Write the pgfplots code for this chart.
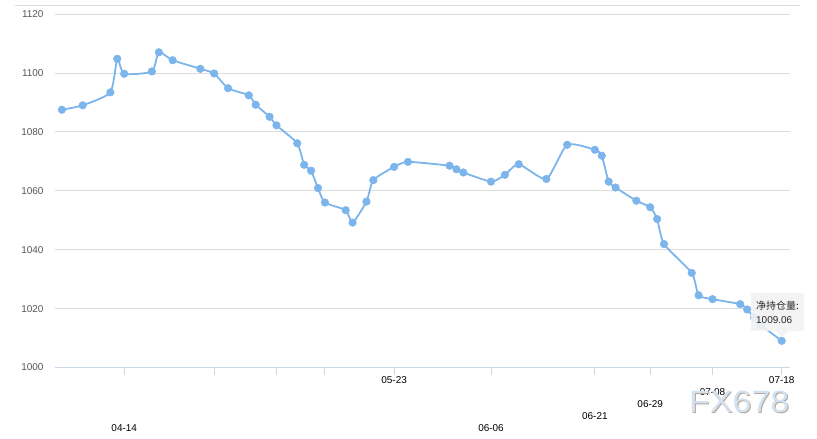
\documentclass[border=0pt]{standalone}
\usepackage{fontspec}
\setmainfont{Liberation Sans}
\newfontfamily\cjk{Noto Sans CJK SC}
\usepackage{pgfplots}
\pgfplotsset{compat=1.18}
\definecolor{serc}{HTML}{7CB5EC}
\definecolor{gridc}{HTML}{DCDCDC}
\definecolor{axc}{HTML}{CCD6EB}
\definecolor{labc}{HTML}{555555}
\definecolor{wmc}{HTML}{D2E2F3}
\definecolor{wmd}{HTML}{B8A89A}
\begin{document}
\begin{tikzpicture}[x=1bp,y=1bp]
\path[use as bounding box] (0,0) rectangle (817,439);
\draw[color=gridc, line width=0.8bp] (15,433.3) -- (800,433.3);
\begin{axis}[
  at={(55bp,71.5bp)}, anchor=south west,
  scale only axis, width=735bp, height=353.5bp,
  xmin=-10, xmax=96.2, ymin=1000, ymax=1120,
  ytick={1000,1020,...,1120},
  xtick={0,13,22,29,39,53,68,76,85,95},
  xticklabels={},
  ymajorgrids, grid style={draw=gridc, line width=0.8bp},
  axis x line*=bottom, axis y line*=left,
  x axis line style={draw=axc, line width=1bp, -},
  y axis line style={draw=none},
  ytick style={draw=none},
  xtick style={draw=axc, line width=1bp},
  tick align=outside, major tick length=8bp,
  yticklabel style={font=\fontsize{10}{12}\selectfont, color=labc, xshift=0bp},
  /pgf/number format/assume math mode=true,
  /pgf/number format/set thousands separator={},
  clip=false,
]
\addplot[color=serc, line width=1.8bp, smooth, tension=0.35,
  mark=*, mark size=3.8bp, mark options={fill=serc, draw=serc, line width=0.5bp}] coordinates {
(-9,1087.5) (-6,1089.0) (-2,1093.4) (-1,1104.8) (0,1099.7) (4,1100.5)
(5,1107.0) (7,1104.3) (11,1101.4) (13,1099.8) (15,1094.8) (18,1092.4)
(19,1089.2) (21,1085.1) (22,1082.2) (25,1076.1) (26,1068.8) (27,1066.8)
(28,1060.9) (29,1056.0) (32,1053.4) (33,1049.2) (35,1056.3) (36,1063.6)
(39,1068.1) (41,1069.8) (47,1068.5) (48,1067.3) (49,1066.2) (53,1063.1)
(55,1065.4) (57,1069.0) (61,1064.0) (64,1075.6) (68,1073.9) (69,1071.9)
(70,1063.1) (71,1061.1) (74,1056.6) (76,1054.4) (77,1050.4) (78,1041.9)
(82,1032.1) (83,1024.5) (85,1023.2) (89,1021.5) (90,1019.7) (91,1016.9)
(92,1014.4) (95,1009.06)
};
\pgfplotsset{every node/.append style={font=\fontsize{10}{12}\selectfont, color=labc}}
\node at (axis cs:0,1000)  [yshift=-60.5bp] {04-14};
\node at (axis cs:39,1000) [yshift=-13bp] {05-23};
\node at (axis cs:53,1000) [yshift=-61bp] {06-06};
\node at (axis cs:68,1000) [yshift=-48.5bp] {06-21};
\node at (axis cs:76,1000) [yshift=-37bp] {06-29};
\node at (axis cs:85,1000) [yshift=-25bp] {07-08};
\node at (axis cs:95,1000) [yshift=-12.5bp] {07-18};
\end{axis}
% watermark
\node[anchor=base west, inner sep=0, text=wmd, xscale=1.1] at (690,25) {\fontsize{31}{31}\selectfont FX678};
\node[anchor=base west, inner sep=0, text=wmc, xscale=1.1] at (689,26) {\fontsize{31}{31}\selectfont FX678};
% tooltip
\fill[color=black!5, opacity=0.9] (751,108) -- (776,108) -- (782,102) -- (788,108) -- (804,108) -- (804,146) -- (751,146) -- cycle;
\node[anchor=west, inner sep=0, text=black!85] at (756,133) {\fontsize{10}{12}\selectfont\cjk 净持仓量:};
\node[anchor=west, inner sep=0, text=black!85] at (756,119) {\fontsize{10}{12}\selectfont 1009.06};
\end{tikzpicture}
\end{document}
